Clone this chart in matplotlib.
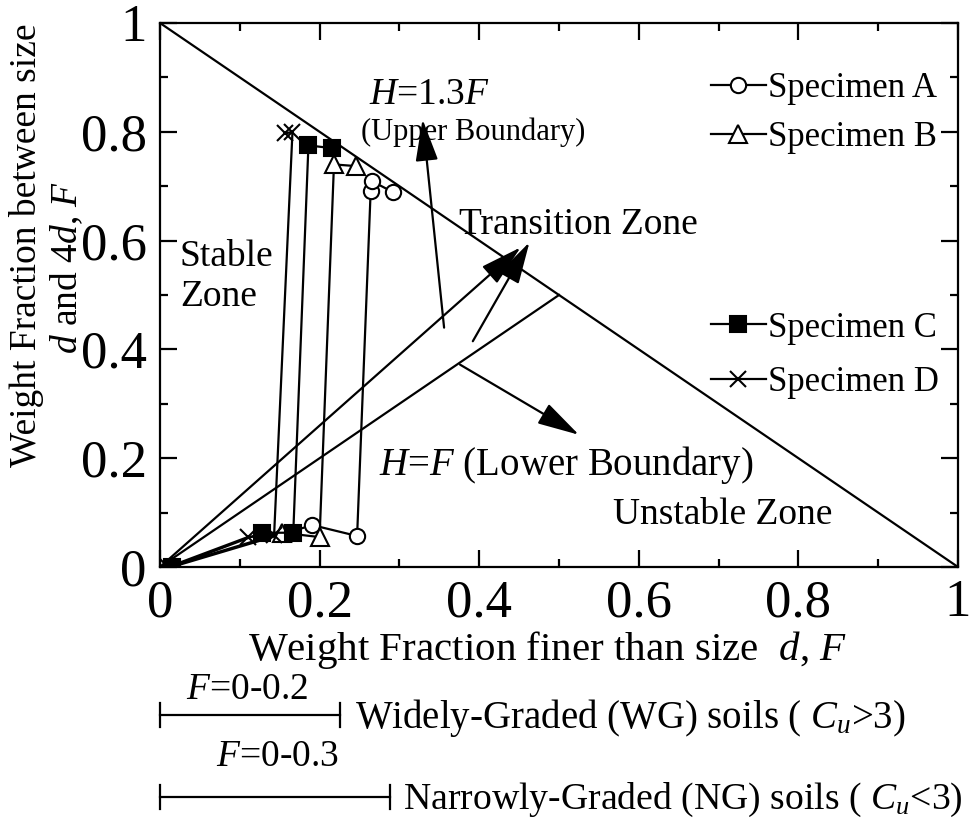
import matplotlib
matplotlib.use('Agg')
import matplotlib.pyplot as plt
from matplotlib.ticker import MultipleLocator, FuncFormatter
import matplotlib.transforms as mtransforms

plt.rcParams['font.family'] = ['Liberation Serif', 'DejaVu Serif']
plt.rcParams['mathtext.fontset'] = 'custom'
plt.rcParams['mathtext.rm'] = 'Liberation Serif'
plt.rcParams['mathtext.it'] = 'Liberation Serif:italic'
plt.rcParams['mathtext.bf'] = 'Liberation Serif:bold'

# ---------------- data ----------------
spec_a_F = [0.015, 0.191, 0.247, 0.264, 0.266, 0.292]
spec_a_H = [0.000, 0.077, 0.057, 0.692, 0.709, 0.689]
spec_b_F = [0.015, 0.153, 0.200, 0.218, 0.2455]
spec_b_H = [0.002, 0.063, 0.055, 0.740, 0.737]
spec_c_F = [0.015, 0.128, 0.167, 0.186, 0.215]
spec_c_H = [0.000, 0.063, 0.063, 0.775, 0.770]
spec_d_F = [0.010, 0.110, 0.143, 0.166, 0.157]
spec_d_H = [0.000, 0.055, 0.059, 0.800, 0.797]

diag_F = [0.0, 1.0]
diag_H = [1.0, 0.0]
lower_F = [0.0, 0.5]
lower_H = [0.0, 0.5]
upper_ratio = 1.3
upper_F_end = 0.452

# ---------------- figure ----------------
W, Hh = 970, 821
fig = plt.figure(figsize=(W / 100, Hh / 100), dpi=100)
L, R, T, B = 160, 958, 23, 567
ax = fig.add_axes([L / W, 1 - B / Hh, (R - L) / W, (B - T) / Hh])
ax.set_xlim(0, 1)
ax.set_ylim(0, 1)

lw = 1.6
ax.plot(diag_F, diag_H, color='k', lw=lw)
ax.plot(lower_F, lower_H, color='k', lw=lw)
arrow_kw = dict(arrowstyle='-|>,head_length=1.3,head_width=0.35',
                mutation_scale=20, color='k', lw=lw, shrinkA=0, shrinkB=0)
ax.annotate('', xy=(upper_F_end, upper_ratio * upper_F_end), xytext=(0, 0),
            arrowprops=arrow_kw)

ms = 11
la, = ax.plot(spec_a_F, spec_a_H, color='k', lw=lw, marker='o', ms=ms,
              mfc='white', mec='k', mew=1.5, label='Specimen A')
lb, = ax.plot(spec_b_F, spec_b_H, color='k', lw=lw, marker='^', ms=ms + 2,
              mfc='white', mec='k', mew=1.5, label='Specimen B')
lc, = ax.plot(spec_c_F, spec_c_H, color='k', lw=lw, marker='s', ms=ms,
              mfc='k', mec='k', mew=1.5, label='Specimen C')
ld, = ax.plot(spec_d_F, spec_d_H, color='k', lw=lw, marker='x', ms=ms + 1,
              mec='k', mew=1.5, label='Specimen D')

# arrows
ax.annotate('', xy=(0.463, 0.597), xytext=(0.392, 0.415), arrowprops=arrow_kw)
ax.annotate('', xy=(0.329, 0.823), xytext=(0.356, 0.440), arrowprops=arrow_kw)
ax.annotate('', xy=(0.525, 0.243), xytext=(0.376, 0.372), arrowprops=arrow_kw)

fs = 27
ax.text(0.338, 0.868, '$H$=1.3$F$', fontsize=fs, ha='center', va='center')
ax.text(0.392, 0.800, '(Upper Boundary)', fontsize=22, ha='center', va='center')
ax.text(0.524, 0.629, 'Transition Zone', fontsize=fs, ha='center', va='center')
ax.text(0.025, 0.570, 'Stable', fontsize=fs, ha='left', va='center')
ax.text(0.025, 0.496, 'Zone', fontsize=fs, ha='left', va='center')
ax.text(0.275, 0.1875, '$H$=$F$ (Lower Boundary)', fontsize=28, ha='left', va='center')
ax.text(0.705, 0.0956, 'Unstable Zone', fontsize=fs, ha='center', va='center')

# legends
lfs = 25
leg1 = ax.legend(handles=[la, lb], loc='center left', bbox_to_anchor=(0.69, 0.834),
                 frameon=False, fontsize=lfs, handlelength=1.6, handletextpad=0.05,
                 borderpad=0, borderaxespad=0, labelspacing=0.45)
ax.add_artist(leg1)
leg2 = ax.legend(handles=[lc, ld], loc='center left', bbox_to_anchor=(0.69, 0.389),
                 frameon=False, fontsize=lfs, handlelength=1.6, handletextpad=0.05,
                 borderpad=0, borderaxespad=0, labelspacing=0.62)

# ticks
ax.xaxis.set_major_locator(MultipleLocator(0.2))
ax.yaxis.set_major_locator(MultipleLocator(0.2))
ax.xaxis.set_minor_locator(MultipleLocator(0.1))
ax.yaxis.set_minor_locator(MultipleLocator(0.1))
fmt = FuncFormatter(lambda v, p: f"{v:g}")
ax.xaxis.set_major_formatter(fmt)
ax.yaxis.set_major_formatter(fmt)
ax.tick_params(which='both', direction='in', top=True, right=True, width=1.6)
ax.tick_params(which='major', length=12, labelsize=38)
ax.tick_params(which='minor', length=6)
ax.tick_params(axis='x', which='major', pad=9)
ax.tick_params(axis='y', which='major', pad=9.5)
for s in ax.spines.values():
    s.set_linewidth(1.6)

# shift the y "0" and "1" labels like the reference
yticks = ax.yaxis.get_major_ticks()
lab0 = yticks[0].label1
lab0.set_transform(lab0.get_transform() +
                   mtransforms.ScaledTranslation(4 / 100, 28 / 100, fig.dpi_scale_trans))
lab1 = yticks[-1].label1
lab1.set_transform(lab1.get_transform() +
                   mtransforms.ScaledTranslation(6 / 100, -2 / 100, fig.dpi_scale_trans))

# axis labels
fig.text(27 / W, 1 - 245 / Hh, 'Weight Fraction between size', rotation=90,
         fontsize=fs, ha='center', va='center')
fig.text(67 / W, 1 - 267 / Hh, r'$d$ and $\mathit{4d}$, $F$', rotation=90,
         fontsize=fs, ha='center', va='center')
fig.text(547 / W, 1 - 650 / Hh, 'Weight Fraction finer than size  $d$, $F$',
         fontsize=29.5, ha='center', va='center')

# bottom annotations
blend = mtransforms.blended_transform_factory(ax.transData, fig.transFigure)
def bracket(x1, ypx, half):
    yf = 1 - ypx / Hh
    dy = half / Hh
    ax.plot([0, x1], [yf, yf], color='k', lw=lw, transform=blend, clip_on=False)
    ax.plot([0, 0], [yf - dy, yf + dy], color='k', lw=lw, transform=blend, clip_on=False)
    ax.plot([x1, x1], [yf - dy, yf + dy], color='k', lw=lw, transform=blend, clip_on=False)

fig.text(247 / W, 1 - 690 / Hh, '$F$=0-0.2', fontsize=fs, ha='center', va='center')
bracket(0.225, 715, 12)
fig.text(355 / W, 1 - 718 / Hh, 'Widely-Graded (WG) soils ( $C_u$>$\\mathit{3}$)',
         fontsize=28, ha='left', va='center')
fig.text(277 / W, 1 - 757 / Hh, '$F$=0-0.3', fontsize=fs, ha='center', va='center')
bracket(0.288, 797, 12)
fig.text(403 / W, 1 - 800 / Hh, 'Narrowly-Graded (NG) soils ( $C_u$<$\\mathit{3}$)',
         fontsize=27.2, ha='left', va='center')

fig.savefig('out.png', dpi=100)
